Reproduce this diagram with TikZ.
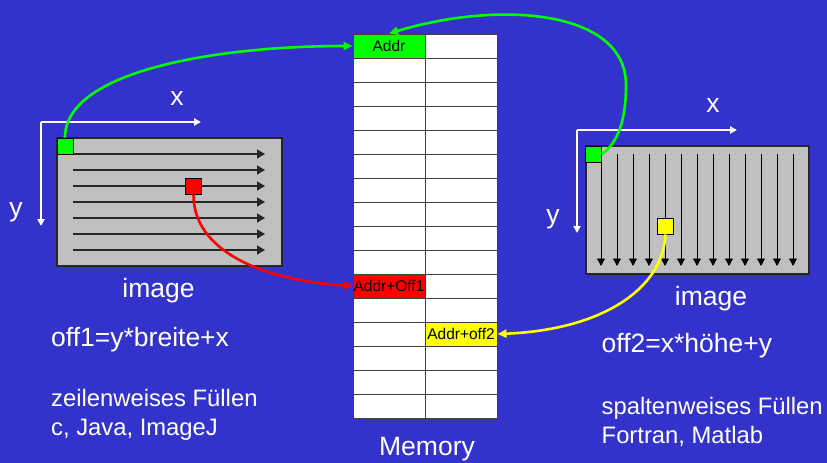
\documentclass[tikz,border=0pt]{standalone}
\usepackage{fontspec}
\setmainfont{Liberation Sans}
\usetikzlibrary{arrows.meta}
\definecolor{bg}{RGB}{51,51,204}
\definecolor{grn}{RGB}{0,255,0}
\definecolor{rd}{RGB}{255,0,0}
\definecolor{yl}{RGB}{255,255,0}
\definecolor{imggray}{RGB}{192,192,192}
\tikzset{
  cell/.style={draw=black!75, line width=1pt, fill=white, minimum width=72pt, minimum height=24pt, inner sep=0pt, font=\fontsize{15.5}{15.5}\selectfont, text=black},
  imgbox/.style={draw=black!85, line width=1.3pt, fill=imggray, inner sep=0pt},
  px/.style={draw=black, line width=0.8pt, minimum width=16pt, minimum height=16pt, inner sep=0pt},
  rowarrow/.style={draw=black!85, line width=1.3pt, -{Triangle[length=8pt,width=9pt]}},
  colarrow/.style={draw=black, line width=0.9pt, -{Triangle[length=7.5pt,width=8pt]}},
  axis/.style={draw=white, line width=1.8pt, -{Triangle[length=7pt,width=7pt]}},
  link/.style={line width=2.6pt, -{Triangle[length=9pt,width=8pt]}},
  lbl/.style={text=white, inner sep=0pt, anchor=base west},
  big/.style={font=\fontsize{26.5}{26.5}\selectfont},
  mid/.style={font=\fontsize{23.8}{23.8}\selectfont},
}
\begin{document}
\begin{tikzpicture}[x=1pt,y=-1pt]
\fill[bg] (0,0) rectangle (827,463);
\useasboundingbox (0,0) rectangle (827,463);

% memory table
\foreach \r in {0,...,15}{
  \foreach \c in {0,1}{
    \node[cell] (m-\r-\c) at (389+72*\c, 46+24*\r) {};
  }
}
\node[cell, fill=grn] (addr) at (389,46) {Addr};
\node[cell, fill=rd] (off1cell) at (389,286) {Addr+Off1};
\node[cell, fill=yl] (off2cell) at (461,334) {Addr+off2};
\node[lbl, big, anchor=base] (memlbl) at (427,455) {Memory};

% left image
\node[imgbox, minimum width=225pt, minimum height=128pt] (img1) at (169.5,202) {};
\foreach \yy in {154,170,...,250}{
  \draw[rowarrow] (73,\yy) -- (265,\yy);
}
\node[px, fill=grn] (g1) at (65,146) {};
\node[px, fill=rd] (r1) at (193.5,186) {};
\coordinate (ax1o) at (41,122);
\coordinate (ax1x) at (201,122);
\coordinate (ax1y) at (41,226);
\draw[axis] (ax1o) -- (ax1x);
\draw[axis] (ax1o) -- (ax1y);
\node[lbl, big, anchor=base] (x1) at (177,105) {x};
\node[lbl, big, anchor=base] (y1) at (16,216) {y};
\node[lbl, big, anchor=base] (im1) at (158.5,297) {image};
\node[lbl, big] (f1) at (51,346) {off1=y*breite+x};
\node[lbl, mid] (t1a) at (51,406) {zeilenweises Füllen};
\node[lbl, mid] (t1b) at (51,435.5) {c, Java, ImageJ};

% right image
\node[imgbox, minimum width=223pt, minimum height=128pt] (img2) at (697.5,210) {};
\foreach \xx in {601,617,...,793}{
  \draw[colarrow] (\xx,154) -- (\xx,266);
}
\node[px, fill=grn] (g2) at (593.5,154) {};
\node[px, fill=yl] (y2) at (665.5,226) {};
\coordinate (ax2o) at (577,130);
\coordinate (ax2x) at (737,130);
\coordinate (ax2y) at (577,233);
\draw[axis] (ax2o) -- (ax2x);
\draw[axis] (ax2o) -- (ax2y);
\node[lbl, big, anchor=base] (x2) at (713,112.5) {x};
\node[lbl, big, anchor=base] (y2l) at (553,223) {y};
\node[lbl, big, anchor=base] (im2) at (711,305) {image};
\node[lbl, big] (f2) at (601.5,352.5) {off2=x*höhe+y};
\node[lbl, mid] (t2a) at (601.5,414) {spaltenweises Füllen};
\node[lbl, mid] (t2b) at (601.5,443) {Fortran, Matlab};

% links
\draw[link, grn] (g1.north) .. controls (65,70) and (220,46) .. (addr.west);
\draw[link, grn] (g2.east) .. controls (622,140) and (626,110) .. (626,85)
   .. controls (626,10) and (500,0) .. (addr.north);
\draw[link, rd] (r1.south) .. controls (193,250) and (260,280) .. (off1cell.west);
\draw[link, yl] (y2.south) .. controls (663,290) and (600,330) .. (off2cell.east);
\end{tikzpicture}
\end{document}
